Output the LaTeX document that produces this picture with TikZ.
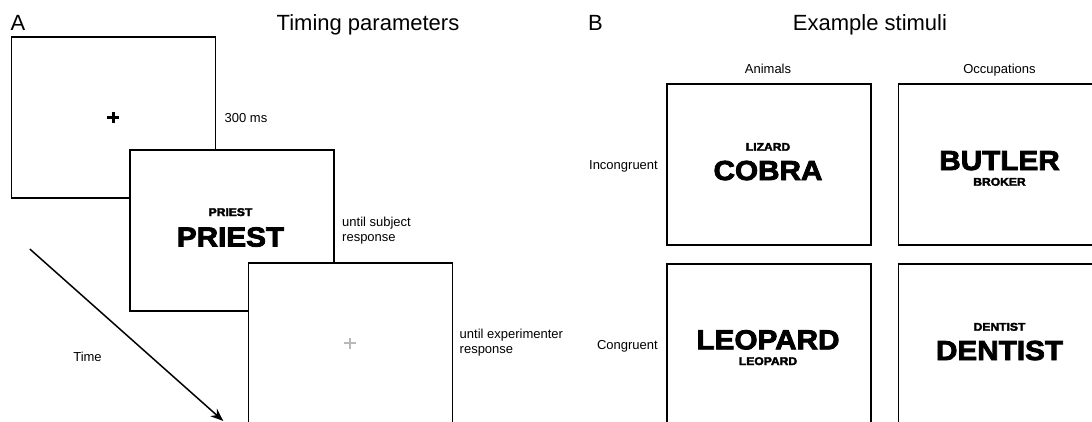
\documentclass[tikz,border=0pt]{standalone}
\usepackage{fontspec}
\setmainfont{Liberation Sans}
\newfontfamily\heavyfont[FakeStretch=1.08,BoldFeatures={FakeBold=3}]{Liberation Sans}
\usetikzlibrary{arrows.meta}
\definecolor{crossgrey}{RGB}{185,185,185}

\begin{document}
\begin{tikzpicture}[x=1pt,y=-1pt,
	screen/.style={draw, line width=1.6pt, fill=white, minimum width=204pt, minimum height=161pt, inner sep=0pt, anchor=north west},
	title/.style={font=\fontsize{22}{26}\selectfont, inner sep=0pt, anchor=base},
	lbl/.style={font=\fontsize{13}{15.5}\selectfont, inner sep=0pt},
	bigword/.style={font=\heavyfont\bfseries\fontsize{27.5}{30}\selectfont, inner sep=0pt, anchor=base},
	smallword/.style={font=\heavyfont\bfseries\fontsize{11.2}{13}\selectfont, inner sep=0pt, anchor=base}]
\fill[white] (0,0) rectangle (1092,421);
\useasboundingbox (0,0) rectangle (1092,421);
\clip (0,0) rectangle (1092,421);

% A: timing parameters
\node [title, anchor=base west] (panelA) at (10.5,30) {A};
\node [title] (timing) at (368,30) {Timing parameters};

\node [screen] (fix1) at (10.5,36) {};
\draw [line width=2.4pt] ([xshift=-6pt]fix1.center) -- ([xshift=6pt]fix1.center)
	([yshift=-5.5pt]fix1.center) -- ([yshift=5.5pt]fix1.center);
\node [lbl, anchor=base west] (t300) at (224.5,122) {300 ms};

\node [screen] (target) at (129,149) {};
\node [smallword] (prime) at (230.5,216) {PRIEST};
\node [bigword] (probe) at (230.5,246.5) {PRIEST};
\node [lbl, anchor=north west, align=left] (tsubj) at (342,216.5) {until subject\\response};

\node [screen] (fix2) at (247.5,262) {};
\draw [line width=2pt, crossgrey] ([xshift=-6pt]fix2.center) -- ([xshift=6pt]fix2.center)
	([yshift=-5.5pt]fix2.center) -- ([yshift=5.5pt]fix2.center);
\node [lbl, anchor=north west, align=left] (texp) at (459.5,328.5) {until experimenter\\response};

\coordinate (tstart) at (29.8,249);
\coordinate (tend) at (223.3,421);
\draw [line width=1.5pt, -{Stealth[length=13pt,width=10pt]}] (tstart) -- (tend);
\node [lbl, anchor=base] (time) at (87.5,361.5) {Time};

% B: example stimuli
\node [title, anchor=base west] (panelB) at (588,30) {B};
\node [title] (stimuli) at (870,30) {Example stimuli};
\node [lbl, anchor=base] (animals) at (768,73) {Animals};
\node [lbl, anchor=base] (occup) at (999.5,73) {Occupations};
\node [lbl, anchor=base east] (incong) at (658,169) {Incongruent};
\node [lbl, anchor=base east] (cong) at (658,349) {Congruent};

\node [screen] (ia) at (666,83) {};
\node [smallword] (ia1) at (768,150.7) {LIZARD};
\node [bigword] (ia2) at (768,180) {COBRA};

\node [screen] (io) at (897.5,83) {};
\node [bigword] (io1) at (999.5,170) {BUTLER};
\node [smallword] (io2) at (999.5,185.7) {BROKER};

\node [screen] (ca) at (666,263) {};
\node [bigword] (ca1) at (768,349.3) {LEOPARD};
\node [smallword] (ca2) at (768,365) {LEOPARD};

\node [screen] (co) at (897.5,263) {};
\node [smallword] (co1) at (999.5,330.7) {DENTIST};
\node [bigword] (co2) at (999.5,360) {DENTIST};
\end{tikzpicture}
\end{document}
